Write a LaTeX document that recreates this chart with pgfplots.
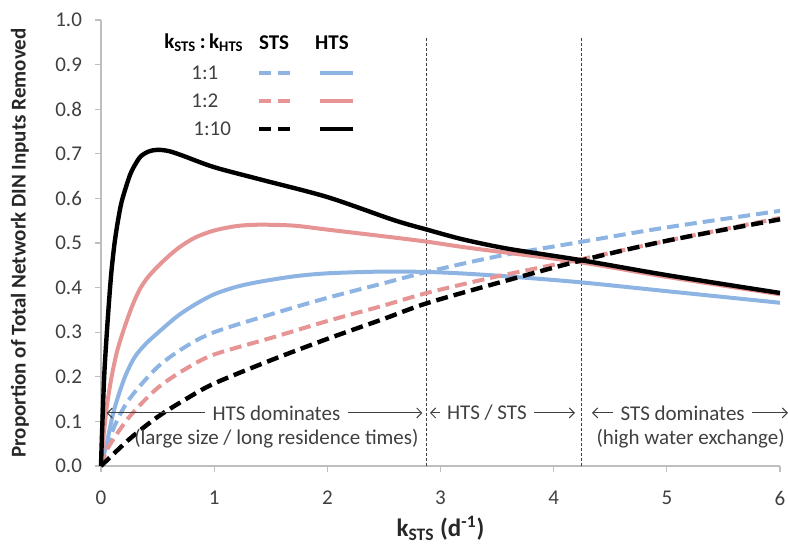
\documentclass[border=0pt]{standalone}
\usepackage{fontspec}
\setmainfont{Carlito}
\usepackage{pgfplots}
\usepackage{pgfplotstable}
\pgfplotsset{compat=1.18}
\usetikzlibrary{arrows.meta}

\definecolor{stsblue}{RGB}{141,180,226}
\definecolor{stsred}{RGB}{230,148,148}
\definecolor{txtgray}{RGB}{64,64,64}
\definecolor{axgray}{RGB}{190,190,190}

% HTS (solid) curves
\pgfplotstableread{
x y
0 0
0.01 0.08
0.03 0.21
0.06 0.33
0.09 0.43
0.12 0.50
0.15 0.55
0.18 0.59
0.22 0.625
0.26 0.655
0.30 0.675
0.35 0.694
0.42 0.705
0.50 0.709
0.60 0.706
0.72 0.696
1.00 0.670
1.40 0.643
2.00 0.603
2.58 0.552
2.88 0.530
3.20 0.508
3.60 0.487
4.23 0.462
5.00 0.428
6.00 0.388
}\htsten
\pgfplotstableread{
x y
0 0
0.02 0.06
0.05 0.13
0.09 0.195
0.14 0.255
0.20 0.305
0.27 0.355
0.34 0.395
0.42 0.425
0.54 0.457
0.68 0.488
0.83 0.512
1.00 0.528
1.20 0.538
1.40 0.541
1.70 0.539
2.00 0.530
2.50 0.515
2.88 0.503
3.17 0.492
3.50 0.481
4.23 0.457
5.00 0.424
6.00 0.385
}\htstwo
\pgfplotstableread{
x y
0 0
0.05 0.05
0.10 0.11
0.15 0.155
0.22 0.205
0.30 0.245
0.40 0.275
0.54 0.307
0.68 0.337
0.83 0.362
1.00 0.385
1.20 0.402
1.40 0.413
1.70 0.425
2.00 0.432
2.50 0.436
2.88 0.435
3.17 0.432
3.60 0.425
4.23 0.412
5.00 0.392
6.00 0.366
}\htsone
% STS (dashed) curves
\pgfplotstableread{
x y
0 0
0.05 0.04
0.12 0.09
0.25 0.15
0.50 0.222
0.75 0.268
1.00 0.300
1.50 0.340
2.00 0.377
2.50 0.410
2.88 0.435
3.50 0.470
4.23 0.502
5.00 0.535
6.00 0.572
}\stsone
\pgfplotstableread{
x y
0 0
0.06 0.04
0.25 0.11
0.50 0.175
0.75 0.218
1.00 0.250
1.50 0.287
2.00 0.325
2.50 0.360
2.88 0.388
3.50 0.425
4.23 0.463
5.00 0.505
6.00 0.556
}\ststwo
\pgfplotstableread{
x y
0 0
0.25 0.06
0.50 0.11
0.75 0.15
1.00 0.185
1.50 0.237
2.00 0.285
2.50 0.330
2.88 0.365
3.50 0.410
4.23 0.460
5.00 0.505
6.00 0.553
}\ststen

\begin{document}
\begin{tikzpicture}[font=\fontsize{10.5}{12.5}\selectfont,
  arr/.style={txtgray, line width=0.5pt, -{Straight Barb[length=2.5pt,width=5pt]}}]
\begin{axis}[
    scale only axis,
    width=339.5pt, height=223pt,
    xmin=0, xmax=6, ymin=0, ymax=1,
    axis lines*=left,
    axis line style={axgray, -, line width=0.7pt},
    xtick={0,1,2,3,4,5,6},
    ytick={0,0.1,0.2,0.3,0.4,0.5,0.6,0.7,0.8,0.9,1.0},
    yticklabel style={/pgf/number format/fixed, /pgf/number format/fixed zerofill, /pgf/number format/precision=1, xshift=-3pt},
    /pgf/number format/assume math mode=true,
    tick align=outside, major tick length=3pt,
    tick style={axgray, line width=0.6pt},
    ticklabel style={txtgray},
    xticklabel style={yshift=-6pt},
    clip=false,
    xlabel={\fontsize{12.5}{14}\selectfont\bfseries k\textsubscript{STS} (d\textsuperscript{-1})},
    xlabel style={at={(axis description cs:0.5,-0.140)}, anchor=center, txtgray!60!black},
    ylabel={\bfseries Proportion of Total Network DIN Inputs Removed},
    ylabel style={at={(axis description cs:-0.1193,0.5)}, anchor=center, txtgray!60!black},
    every axis plot/.append style={line width=2pt, line join=round},
]
\draw[txtgray, line width=0.5pt, dash pattern=on 1.5pt off 1pt] (axis cs:2.88,0) -- (axis cs:2.88,0.962);
\draw[txtgray, line width=0.5pt, dash pattern=on 1.5pt off 1pt] (axis cs:4.25,0) -- (axis cs:4.25,0.962);

\addplot[stsblue, smooth, dash pattern=on 6pt off 3pt] table {\stsone};
\addplot[stsblue, smooth] table {\htsone};
\addplot[stsred, smooth, dash pattern=on 6pt off 3pt] table {\ststwo};
\addplot[stsred, smooth] table {\htstwo};
\addplot[black, smooth, line width=2.2pt, dash pattern=on 6pt off 3pt] table {\ststen};
\addplot[black, smooth, line width=2.2pt] table {\htsten};

% legend
\node[font=\fontsize{10.5}{12.5}\selectfont\bfseries] at (axis cs:0.91,0.949) {k\textsubscript{STS}\,:\,k\textsubscript{HTS}};
\node[font=\fontsize{10.5}{12.5}\selectfont\bfseries] at (axis cs:1.529,0.949) {STS};
\node[font=\fontsize{10.5}{12.5}\selectfont\bfseries] at (axis cs:2.041,0.949) {HTS};
\node[txtgray, anchor=west, inner sep=0pt] at (axis cs:0.795,0.882) {1:1};
\node[txtgray, anchor=west, inner sep=0pt] at (axis cs:0.795,0.819) {1:2};
\node[txtgray, anchor=west, inner sep=0pt] at (axis cs:0.813,0.756) {1:10};
\draw[stsblue, line width=2pt, dash pattern=on 6.2pt off 3.3pt] (axis cs:1.396,0.882) -- (axis cs:1.679,0.882);
\draw[stsblue, line width=2pt] (axis cs:1.935,0.882) -- (axis cs:2.227,0.882);
\draw[stsred, line width=2pt, dash pattern=on 6.2pt off 3.3pt] (axis cs:1.396,0.819) -- (axis cs:1.679,0.819);
\draw[stsred, line width=2pt] (axis cs:1.935,0.819) -- (axis cs:2.227,0.819);
\draw[black, line width=2.2pt, dash pattern=on 6.2pt off 3.3pt] (axis cs:1.396,0.756) -- (axis cs:1.679,0.756);
\draw[black, line width=2.2pt] (axis cs:1.935,0.756) -- (axis cs:2.227,0.756);

% regime annotations
\node[txtgray, inner sep=3.5pt] (a1) at (axis cs:1.55,0.119) {HTS dominates};
\draw[arr] (a1.west) -- (axis cs:0.05,0.119);
\draw[arr] (a1.east) -- (axis cs:2.84,0.119);
\node[txtgray, inner sep=3.5pt] (a2) at (axis cs:3.41,0.119) {HTS / STS};
\draw[arr] (a2.west) -- (axis cs:2.907,0.119);
\draw[arr] (a2.east) -- (axis cs:4.188,0.119);
\node[txtgray, inner sep=3.5pt] (a3) at (axis cs:5.14,0.119) {STS dominates};
\draw[arr] (a3.west) -- (axis cs:4.339,0.119);
\draw[arr] (a3.east) -- (axis cs:6.07,0.119);
\node[txtgray] at (axis cs:1.55,0.061) {(large size / long residence times)};
\node[txtgray] at (axis cs:5.21,0.061) {(high water exchange)};
\end{axis}
\pgfresetboundingbox
\path ([shift={(-50.5pt,-40pt)}]current axis.south west) rectangle ([shift={(4pt,10pt)}]current axis.north east);
\end{tikzpicture}
\end{document}
